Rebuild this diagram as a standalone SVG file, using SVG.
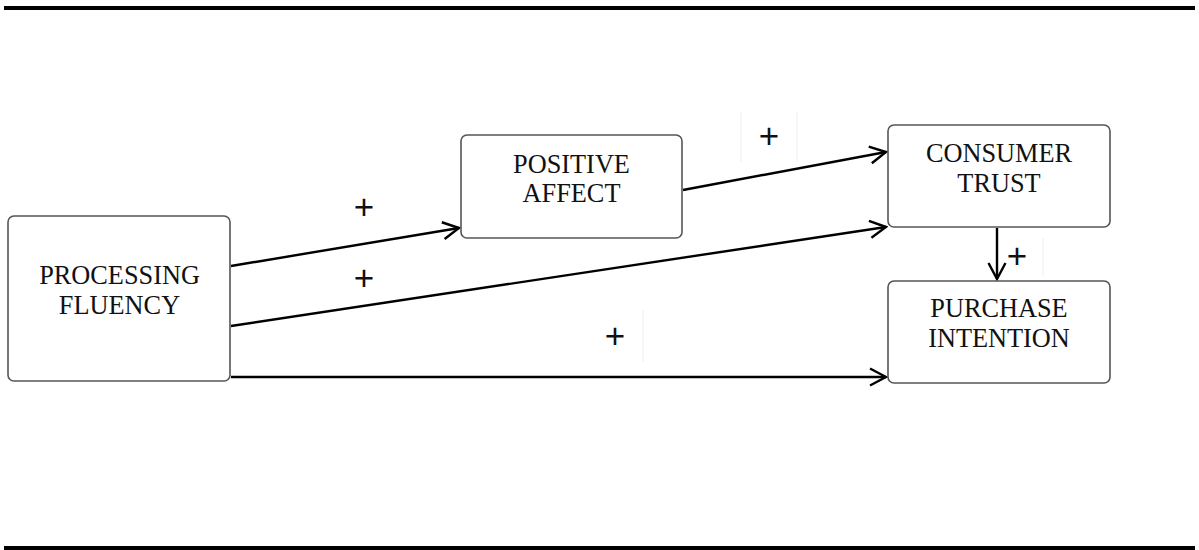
<svg xmlns="http://www.w3.org/2000/svg" width="1199" height="550" viewBox="0 0 1199 550">
<defs>
<marker id="arr" viewBox="0 0 20 20" refX="18" refY="10" markerWidth="20" markerHeight="20" markerUnits="userSpaceOnUse" orient="auto">
<path d="M2,1.5 L18,10 L2,18.5" fill="none" stroke="#000" stroke-width="2.4"/>
</marker>
<style>
.box{fill:#fff;stroke:#555;stroke-width:1.6}
.lbl{font-family:"Liberation Serif","Times New Roman",serif;font-size:26.3px;fill:#111;text-anchor:middle}
.plus{font-family:"Liberation Sans",Arial,sans-serif;font-size:35px;fill:#111;text-anchor:middle}
.edge{stroke:#000;stroke-width:2.4;fill:none;marker-end:url(#arr)}
.rule{stroke:#000;stroke-width:4}
.faint{stroke:#eee;stroke-width:1}
</style>
</defs>
<line class="rule" x1="4" y1="8" x2="1195" y2="8"/>
<line class="rule" x1="4" y1="548" x2="1195" y2="548"/>
<g id="faint-marks">
<line class="faint" x1="741" y1="112" x2="741" y2="162"/>
<line class="faint" x1="797" y1="112" x2="797" y2="162"/>
<line class="faint" x1="643" y1="310" x2="643" y2="362"/>
<line class="faint" x1="1043" y1="238" x2="1043" y2="276"/>
</g>
<g id="connectors">
<line class="edge" x1="231" y1="266" x2="459" y2="228"/>
<line class="edge" x1="683" y1="190" x2="886" y2="152"/>
<line class="edge" x1="231" y1="326" x2="886" y2="227"/>
<line class="edge" x1="231" y1="377" x2="886" y2="377"/>
<line class="edge" x1="997" y1="228" x2="997" y2="279"/>
<text class="plus" x="364" y="219">+</text>
<text class="plus" x="769" y="148">+</text>
<text class="plus" x="364" y="290">+</text>
<text class="plus" x="615" y="348">+</text>
<text class="plus" x="1017" y="268">+</text>
</g>
<g id="processing-fluency">
<rect class="box" x="8" y="216" width="222" height="165" rx="6"/>
<text class="lbl" x="119.5" y="284">PROCESSING</text>
<text class="lbl" x="119.5" y="314">FLUENCY</text>
</g>
<g id="positive-affect">
<rect class="box" x="461" y="135" width="221" height="103" rx="6"/>
<text class="lbl" x="571.5" y="173">POSITIVE</text>
<text class="lbl" x="571.5" y="202">AFFECT</text>
</g>
<g id="consumer-trust">
<rect class="box" x="888" y="125" width="222" height="102" rx="6"/>
<text class="lbl" x="999" y="162">CONSUMER</text>
<text class="lbl" x="999" y="192">TRUST</text>
</g>
<g id="purchase-intention">
<rect class="box" x="888" y="281" width="222" height="102" rx="6"/>
<text class="lbl" x="999" y="317">PURCHASE</text>
<text class="lbl" x="999" y="347">INTENTION</text>
</g>
</svg>
